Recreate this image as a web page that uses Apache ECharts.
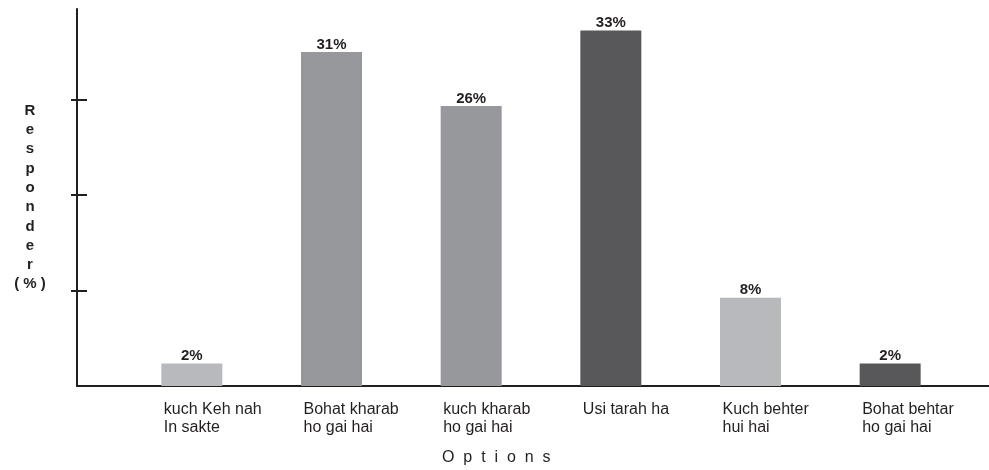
<!DOCTYPE html>
<html>
<head>
<meta charset="utf-8">
<script src="https://cdn.jsdelivr.net/npm/echarts@6/dist/echarts.min.js"></script>
<style>
html,body{margin:0;padding:0;background:#fff;}
#chart{width:989px;height:470px;}
</style>
</head>
<body>
<div id="chart"></div>
<script>
const categories = ['kuch Keh nah\nIn sakte', 'Bohat kharab\nho gai hai', 'kuch kharab\nho gai hai', 'Usi tarah ha', 'Kuch behter\nhui hai', 'Bohat behtar\nho gai hai'];
const values = [2.1, 31, 26, 33, 8.2, 2.1];
const barColors = ['#b8b9bc', '#97989b', '#97989b', '#58585a', '#b8b9bc', '#58585a'];
const yTicks = [8.87, 17.73, 26.6];
const yMax = 35;
const yTitle = 'R\ne\ns\np\no\nn\nd\ne\nr\n( % )';
const xTitle = 'O  p  t  i  o  n  s';

const FONT = 'Liberation Sans, Arial, Helvetica, sans-serif';
const INK = '#231f20';

const chart = echarts.init(document.getElementById('chart'), null, {renderer: 'canvas'});
chart.setOption({
  backgroundColor: '#ffffff',
  animation: false,
  title: {
    text: xTitle,
    left: 442,
    top: 450,
    padding: 0,
    textStyle: {fontFamily: FONT, fontSize: 16, fontWeight: 'normal', color: INK}
  },
  grid: [
    {left: 77, right: 0, top: 9, bottom: 84},
    {left: 122, right: 29, top: 9, bottom: 84},
    {left: 94, right: 57, top: 9, bottom: 84}
  ],
  xAxis: [
    {gridIndex: 0, type: 'value', min: 0, max: 1,
     axisLine: {show: true, lineStyle: {color: INK, width: 2}},
     axisTick: {show: false}, axisLabel: {show: false}, splitLine: {show: false}},
    {gridIndex: 1, type: 'category', data: categories,
     axisLine: {show: false}, axisTick: {show: false}, axisLabel: {show: false}, splitLine: {show: false}},
    {gridIndex: 2, type: 'category', data: categories,
     axisLine: {show: false}, axisTick: {show: false}, splitLine: {show: false},
     axisLabel: {show: true, interval: 0, align: 'left', margin: 15,
       fontFamily: FONT, fontSize: 16, lineHeight: 17.5, color: INK}}
  ],
  yAxis: [
    {gridIndex: 0, type: 'value', min: 0, max: yMax, position: 'left',
     axisLine: {show: true, lineStyle: {color: INK, width: 2}},
     axisTick: {show: true, length: 6, inside: false, customValues: yTicks, lineStyle: {color: INK, width: 2}},
     axisLabel: {show: false}, splitLine: {show: false},
     name: yTitle, nameLocation: 'middle', nameRotate: 0, nameGap: 47,
     nameTextStyle: {fontFamily: FONT, fontSize: 15, fontWeight: 'bold', color: INK,
       lineHeight: 19.3, align: 'center', verticalAlign: 'middle', padding: [0, 0, 5, 0]}},
    {gridIndex: 0, type: 'value', min: 0, max: yMax, position: 'left',
     axisLine: {show: false},
     axisTick: {show: true, length: 10, inside: true, customValues: yTicks, lineStyle: {color: INK, width: 2}},
     axisLabel: {show: false}, splitLine: {show: false}},
    {gridIndex: 1, type: 'value', min: 0, max: yMax,
     axisLine: {show: false}, axisTick: {show: false}, axisLabel: {show: false}, splitLine: {show: false}},
    {gridIndex: 2, type: 'value', min: 0, max: yMax,
     axisLine: {show: false}, axisTick: {show: false}, axisLabel: {show: false}, splitLine: {show: false}}
  ],
  series: [{
    type: 'bar',
    xAxisIndex: 1,
    yAxisIndex: 2,
    barWidth: 61,
    data: values.map((v, i) => ({value: v, itemStyle: {color: barColors[i]}})),
    label: {
      show: true, position: 'top', distance: 0,
      formatter: p => Math.round(p.value) + '%',
      fontFamily: FONT, fontSize: 15, fontWeight: 'bold', color: INK
    }
  }]
});
</script>
</body>
</html>
